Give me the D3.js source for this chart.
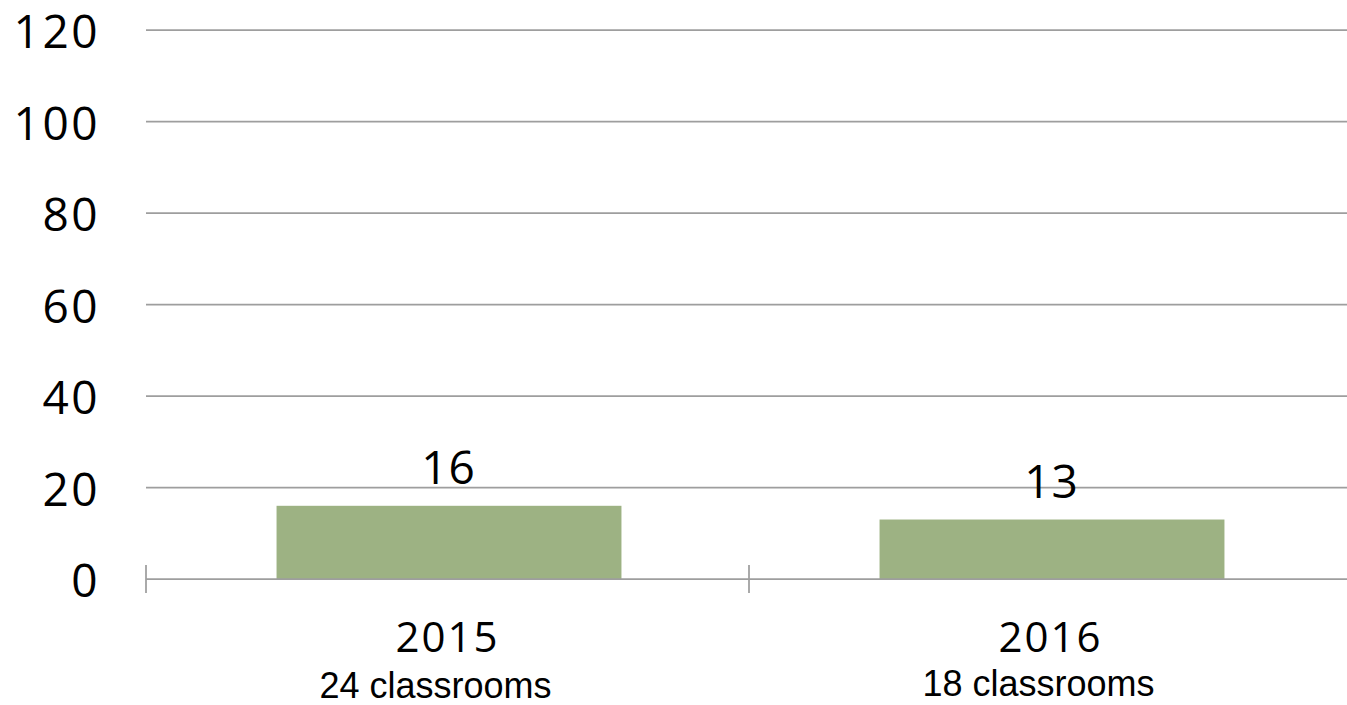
<!DOCTYPE html>
<html>
<head>
<meta charset="utf-8">
<script src="https://cdn.jsdelivr.net/npm/d3@7"></script>
<style>
  html, body { margin: 0; padding: 0; background: #fff; }
  svg { display: block; }
</style>
</head>
<body>
<svg id="chart" width="1347" height="705"></svg>
<script>
const categories = ["2015", "2016"];
const subLabels = ["24 classrooms", "18 classrooms"];
const values = [16, 13];
const yTicks = [0, 20, 40, 60, 80, 100, 120];

(function () {
const svg = d3.select("#chart");
const W = 1347;
const plotLeft = 146, plotRight = 1352, plotTop = 30, plotBottom = 579;

const x = d3.scaleBand().domain(categories).range([plotLeft, plotRight]).padding(0);
const y = d3.scaleLinear().domain([0, 120]).range([plotBottom, plotTop]);

const gridColor = "#9e9e9e";
const bigFont = "'Open Sans', 'Noto Sans', sans-serif";

// gridlines
svg.append("g").selectAll("line").data(yTicks.filter(d => d !== 0)).join("line")
  .attr("x1", plotLeft).attr("x2", W)
  .attr("y1", d => y(d)).attr("y2", d => y(d))
  .attr("stroke", gridColor).attr("stroke-width", 1.75);

// y labels
svg.append("g").selectAll("text").data(yTicks).join("text")
  .attr("x", 100).attr("y", d => y(d))
  .attr("text-anchor", "end").attr("dominant-baseline", "central")
  .attr("font-family", bigFont).attr("font-size", 46)
  .attr("letter-spacing", 2.5)
  .attr("fill", "#000")
  .text(d => d);

// bars
const barW = x.bandwidth() * 0.572;
svg.append("g").selectAll("rect").data(categories).join("rect")
  .attr("x", (d) => x(d) + x.bandwidth() / 2 - barW / 2 + 1.5)
  .attr("y", (d, i) => y(values[i]))
  .attr("width", barW)
  .attr("height", (d, i) => y(0) - y(values[i]))
  .attr("fill", "#9db283");

// baseline axis
svg.append("line")
  .attr("x1", plotLeft).attr("x2", W)
  .attr("y1", y(0)).attr("y2", y(0))
  .attr("stroke", gridColor).attr("stroke-width", 1.75);

// category boundary ticks
const tickPos = categories.map(d => x(d));
svg.append("g").selectAll("line").data(tickPos).join("line")
  .attr("x1", d => d).attr("x2", d => d)
  .attr("y1", y(0) - 14).attr("y2", y(0) + 14)
  .attr("stroke", gridColor).attr("stroke-width", 1.75);

// value labels
svg.append("g").selectAll("text").data(categories).join("text")
  .attr("x", d => x(d) + x.bandwidth() / 2 + 1)
  .attr("y", (d, i) => y(values[i]) - 22)
  .attr("text-anchor", "middle")
  .attr("font-family", bigFont).attr("font-size", 46)
  .attr("letter-spacing", 1)
  .attr("fill", "#000")
  .text((d, i) => values[i]);

// category labels
svg.append("g").selectAll("text").data(categories).join("text")
  .attr("x", d => x(d) + x.bandwidth() / 2)
  .attr("y", 652)
  .attr("text-anchor", "middle")
  .attr("font-family", bigFont).attr("font-size", 42)
  .attr("letter-spacing", 2)
  .attr("fill", "#000")
  .text(d => d);

svg.append("g").selectAll("text").data(categories).join("text")
  .attr("x", d => x(d) + x.bandwidth() / 2 - 12)
  .attr("y", (d, i) => i === 0 ? 698 : 696)
  .attr("text-anchor", "middle")
  .attr("font-family", "'Liberation Sans', Arial, sans-serif").attr("font-size", 36)
  .attr("fill", "#000")
  .text((d, i) => subLabels[i]);
})();
</script>
</body>
</html>
